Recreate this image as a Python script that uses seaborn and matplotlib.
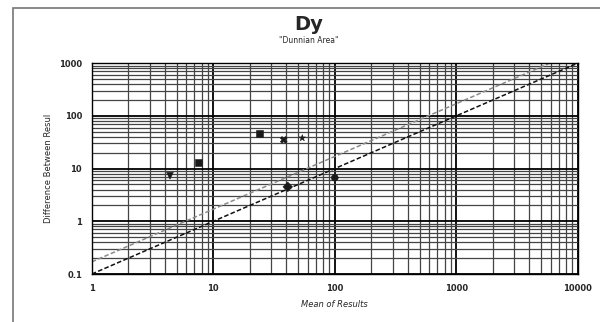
import numpy as np
import pandas as pd
import matplotlib
matplotlib.use("Agg")
import matplotlib.pyplot as plt
import matplotlib.ticker as mticker
from matplotlib.patches import Rectangle
import seaborn as sns

# data
mean_results = [4.4, 7.6, 24, 38, 54, 41, 100]
diff_results = [7.3, 13, 47, 35, 38, 4.5, 6.7]
point_style = ["tri", "sq1", "sq2", "cross", "star", "dia", "circ"]

line_x = [1, 10000]
line_low = [0.1, 1000]       # black dashed reference line
line_high = [0.17, 1700]     # grey dashed reference line

x_ticks = [1, 10, 100, 1000, 10000]
x_tick_labels = ["1", "10", "100", "1000", "10000"]
y_ticks = [0.1, 1, 10, 100, 1000]
y_tick_labels = ["0.1", "1", "10", "100", "1000"]

sns.set_style("white")
plt.rcParams["font.family"] = ["DejaVu Sans"]

pts = pd.DataFrame({"x": mean_results, "y": diff_results, "s": point_style})
lines = pd.DataFrame({
    "x": line_x + line_x,
    "y": line_low + line_high,
    "kind": ["low"] * 2 + ["high"] * 2,
})

fig = plt.figure(figsize=(6, 3.22), dpi=100)
ax = fig.add_axes([0.153, 0.149, 0.81, 0.655])

ax.set_xscale("log")
ax.set_yscale("log")
ax.set_xlim(1, 10000)
ax.set_ylim(0.1, 1000)

# grid: major + minor, all dark like the scanned chart
ax.grid(True, which="major", color="black", linewidth=1.3)
ax.grid(True, which="minor", color="#444444", linewidth=0.9)
ax.xaxis.set_minor_locator(mticker.LogLocator(base=10, subs=np.arange(2, 10)))
ax.yaxis.set_minor_locator(mticker.LogLocator(base=10, subs=np.arange(2, 10)))
ax.set_axisbelow(True)

sns.lineplot(data=lines, x="x", y="y", hue="kind", style="kind",
             palette={"low": "#111111", "high": "#8a8a8a"},
             dashes={"low": (3, 1.5), "high": (3, 1.5)},
             linewidth=1.1, legend=False, ax=ax)

sns.scatterplot(data=pts, x="x", y="y", style="s",
                markers={"tri": "v", "sq1": "s", "sq2": "s", "cross": "X",
                         "star": "*", "dia": "D", "circ": "o"},
                color="#1a1a1a", s=24, edgecolor="#1a1a1a", legend=False,
                ax=ax, zorder=5)

ax.set_xticks(x_ticks)
ax.set_xticklabels(x_tick_labels)
ax.set_yticks(y_ticks)
ax.set_yticklabels(y_tick_labels)
ax.tick_params(axis="both", which="major", labelsize=6, length=0, pad=7)
ax.tick_params(axis="both", which="minor", length=0)
for lab in ax.get_xticklabels() + ax.get_yticklabels():
    lab.set_fontweight("bold")

ax.set_xlabel("Mean of Results", fontsize=6, fontstyle="italic", labelpad=5)
ax.set_ylabel("Difference Between Resul", fontsize=6, labelpad=4)

for sp in ax.spines.values():
    sp.set_visible(True)
    sp.set_color("black")
    sp.set_linewidth(1.0)

fig.text(0.515, 0.925, "Dy", ha="center", va="center", fontsize=14, fontweight="bold")
fig.text(0.515, 0.874, "\"Dunnian Area\"", ha="center", va="center", fontsize=5.5)

# outer frame that runs off the right and bottom edges
fig.patches.append(Rectangle((0.022, -0.1), 1.2, 1.075, transform=fig.transFigure,
                             fill=False, edgecolor="#777777", linewidth=1.2))

fig.savefig("out.png", dpi=100)
